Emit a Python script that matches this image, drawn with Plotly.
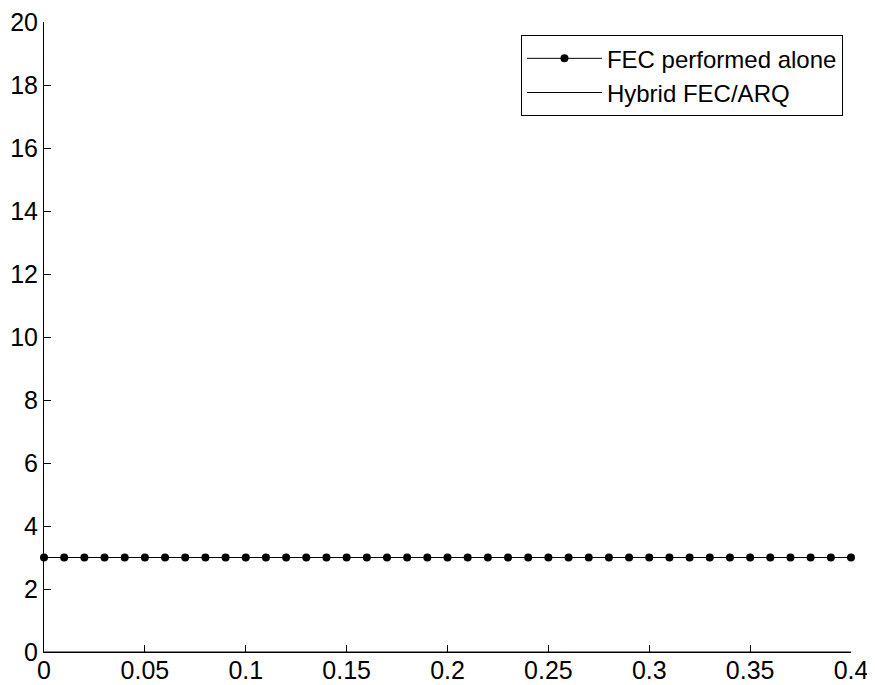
import plotly.graph_objects as go

x_vals = [round(i * 0.01, 2) for i in range(41)]
fec_alone = [3.0] * 41
hybrid = [0.0] * 41

x_ticks = [0, 0.05, 0.1, 0.15, 0.2, 0.25, 0.3, 0.35, 0.4]
x_tick_labels = ["0", "0.05", "0.1", "0.15", "0.2", "0.25", "0.3", "0.35", "0.4"]
y_ticks = [0, 2, 4, 6, 8, 10, 12, 14, 16, 18, 20]

fig = go.Figure()
fig.add_trace(go.Scatter(x=x_vals, y=fec_alone, mode="lines+markers", name="FEC performed alone",
                         line=dict(color="black", width=1), marker=dict(color="black", size=8),
                         cliponaxis=False))
fig.add_trace(go.Scatter(x=x_vals, y=hybrid, mode="lines", name="Hybrid FEC/ARQ",
                         line=dict(color="black", width=1), cliponaxis=False))

fig.update_layout(
    width=867, height=677,
    margin=dict(l=36, r=24, t=14, b=33),
    paper_bgcolor="white", plot_bgcolor="white",
    font=dict(family="Liberation Sans, Arial", size=25, color="black"),
    showlegend=True,
    legend=dict(x=0.990, xanchor="right", y=0.979, yanchor="top",
                bordercolor="black", borderwidth=1, bgcolor="white",
                font=dict(size=24), tracegroupgap=0, itemwidth=75),
    xaxis=dict(range=[0, 0.4], tickvals=x_ticks, ticktext=x_tick_labels, automargin=False,
               showgrid=False, zeroline=False, showline=True, linecolor="black",
               ticks="inside", ticklen=7, tickcolor="black", mirror=False,
               ticklabelstandoff=-4, ticklabeloverflow="allow"),
    yaxis=dict(range=[0, 20], tickvals=y_ticks, showgrid=False, zeroline=False, automargin=False,
               showline=True, linecolor="black", ticks="inside", ticklen=7,
               tickcolor="black", mirror=False, ticklabeloverflow="allow"),
)

fig.write_html("out.html")
